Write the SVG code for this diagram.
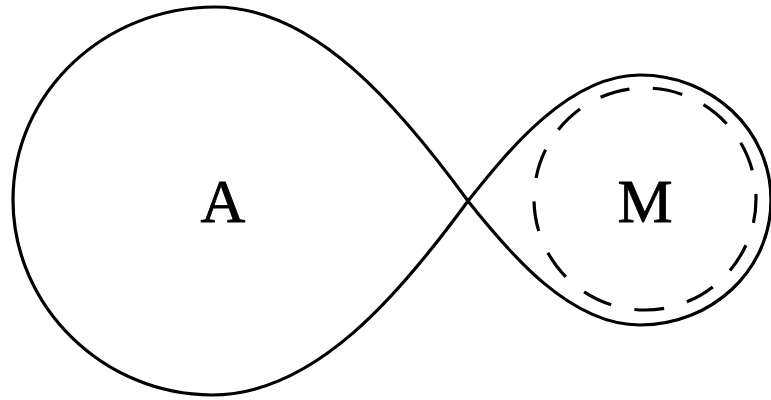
<svg xmlns="http://www.w3.org/2000/svg" width="771" height="400" viewBox="0 0 771 400">
  <style>
    .curve { fill: none; stroke: #000; stroke-width: 3.2; stroke-linejoin: round; }
    .dash { fill: none; stroke: #000; stroke-width: 3.2; stroke-dasharray: 30 23.65; stroke-dashoffset: 6; }
    .label { font-family: "Liberation Serif", "Times New Roman", serif; font-size: 62px; fill: #000; stroke: #000; stroke-width: 0.8; text-anchor: middle; }
  </style>
  <rect width="771" height="400" fill="#fff"/>
  <g id="lobe-A">
    <path class="curve" d="M468,201 C400,108 315,7 215,7 C104,7 13,93 13,200 C13,307 104,395 212,395 C315,395 400,294 468,201"/>
    <text class="label" x="223" y="222">A</text>
  </g>
  <g id="lobe-M">
    <path class="curve" d="M468,201 C510,148 570,75 640,75 C712,75 771,130 771,200 C771,270 712,325 640,325 C570,325 510,254 468,201"/>
    <circle class="dash" cx="645" cy="199" r="111"/>
    <text class="label" x="645" y="222">M</text>
  </g>
</svg>
